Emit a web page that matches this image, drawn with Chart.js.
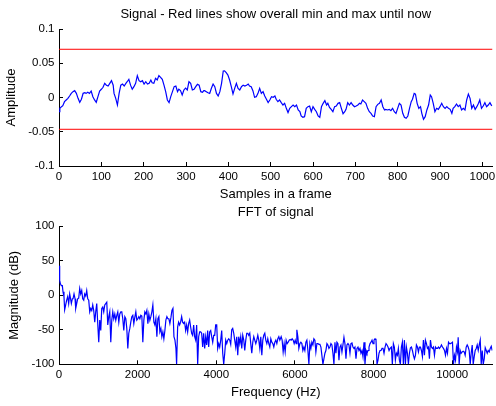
<!DOCTYPE html>
<html>
<head>
<meta charset="utf-8">
<script src="https://cdn.jsdelivr.net/npm/chart.js@4.4.1/dist/chart.umd.min.js"></script>
<style>
  html, body { margin: 0; padding: 0; background: #fff; }
  #wrap { position: relative; width: 496px; height: 406px; }
  canvas { position: absolute; left: 0; }
</style>
</head>
<body>
<div id="wrap">
  <canvas id="signal" width="496" height="203" style="top:0"></canvas>
  <canvas id="fft" width="496" height="203" style="top:203px"></canvas>
</div>
<script>
// signal frame (sample index, amplitude)
const sampleIdx = [
  0, 2, 6, 9, 13, 17, 21, 25, 29, 33, 37, 41, 45, 49, 53, 57, 61, 64, 68, 72,
  76, 80, 84, 88, 92, 96, 100, 104, 108, 112, 116, 120, 124, 128, 130, 134, 138, 142, 146, 150,
  154, 158, 161, 165, 169, 173, 177, 181, 185, 189, 193, 197, 201, 205, 209, 213, 217, 220, 224, 228,
  232, 236, 240, 244, 248, 252, 256, 260, 264, 268, 272, 276, 280, 283, 287, 291, 295, 299, 303, 307,
  311, 315, 319, 323, 327, 331, 335, 339, 342, 344, 348, 352, 356, 360, 364, 368, 372, 376, 380, 384,
  388, 391, 395, 399, 403, 407, 411, 415, 419, 423, 427, 431, 435, 439, 443, 447, 450, 454, 458, 462,
  466, 470, 474, 478, 482, 486, 490, 494, 498, 502, 506, 510, 513, 517, 521, 525, 529, 533, 537, 541,
  545, 549, 553, 557, 561, 565, 569, 572, 576, 580, 584, 588, 592, 596, 600, 604, 608, 612, 616, 620,
  624, 628, 632, 635, 639, 643, 647, 651, 655, 659, 663, 667, 671, 675, 678, 682, 686, 690, 694, 698,
  702, 706, 710, 713, 717, 721, 725, 729, 733, 737, 741, 745, 749, 753, 757, 761, 765, 769, 772, 776,
  780, 784, 788, 792, 796, 800, 804, 808, 812, 816, 820, 824, 828, 832, 835, 839, 842, 846, 850, 854,
  857, 861, 865, 869, 873, 877, 880, 884, 888, 892, 896, 900, 904, 908, 912, 916, 920, 924, 928, 931,
  935, 939, 943, 947, 951, 955, 959, 963, 967, 971, 975, 979, 983, 987, 991, 994, 998, 1002, 1006, 1010,
  1014, 1018, 1021, 1023,
];
const amplitude = [
  -0.0207, -0.0158, -0.0134, -0.0119, -0.0061, -0.0036, -0.0012, 0.0022, 0.0061, 0.0085, 0.0100, 0.0061, -0.0012, -0.0070, -0.0026, 0.0061, 0.0070, 0.0060, 0.0076, 0.0060,
  0.0095, 0.0012, -0.0036, -0.0070, 0.0012, 0.0095, 0.0120, 0.0149, 0.0207, 0.0180, 0.0168, 0.0207, 0.0246, 0.0180, 0.0060, -0.0012, -0.0110, 0.0060, 0.0180, 0.0197,
  0.0168, 0.0207, 0.0230, 0.0265, 0.0180, 0.0120, 0.0158, 0.0207, 0.0319, 0.0246, 0.0230, 0.0246, 0.0197, 0.0230, 0.0197, 0.0207, 0.0255, 0.0216, 0.0207, 0.0280,
  0.0255, 0.0319, 0.0295, 0.0265, 0.0180, 0.0085, -0.0036, -0.0075, 0.0012, 0.0085, 0.0158, 0.0168, 0.0085, 0.0120, 0.0100, 0.0036, 0.0110, 0.0138, 0.0110, 0.0230,
  0.0207, 0.0110, 0.0120, 0.0158, 0.0192, 0.0180, 0.0085, 0.0076, 0.0100, 0.0100, 0.0085, 0.0070, 0.0060, 0.0134, 0.0197, 0.0158, 0.0060, 0.0022, 0.0085, 0.0207,
  0.0387, 0.0390, 0.0362, 0.0328, 0.0255, 0.0158, 0.0051, 0.0134, 0.0207, 0.0134, 0.0110, 0.0158, 0.0180, 0.0168, 0.0180, 0.0197, 0.0168, 0.0158, 0.0100, 0.0003,
  0.0012, 0.0060, 0.0134, 0.0060, 0.0085, 0.0022, -0.0026, -0.0075, -0.0036, 0.0012, 0.0003, 0.0022, -0.0026, -0.0060, -0.0036, -0.0075, -0.0110, -0.0085, -0.0158, -0.0220,
  -0.0158, -0.0134, -0.0110, -0.0134, -0.0110, -0.0182, -0.0207, -0.0270, -0.0289, -0.0280, -0.0158, -0.0134, -0.0124, -0.0207, -0.0134, -0.0173, -0.0207, -0.0270, -0.0289, -0.0134,
  -0.0085, -0.0046, -0.0110, -0.0085, -0.0144, -0.0173, -0.0207, -0.0134, -0.0124, -0.0085, -0.0075, -0.0158, -0.0236, -0.0207, -0.0173, -0.0075, -0.0110, -0.0075, -0.0110, -0.0134,
  -0.0124, -0.0110, -0.0085, -0.0095, -0.0036, -0.0060, -0.0085, -0.0158, -0.0207, -0.0231, -0.0270, -0.0280, -0.0134, -0.0100, -0.0085, -0.0036, -0.0134, -0.0182, -0.0173, -0.0182,
  -0.0173, -0.0192, -0.0158, -0.0207, -0.0231, -0.0158, -0.0085, -0.0110, -0.0231, -0.0289, -0.0304, -0.0270, -0.0158, -0.0060, -0.0026, 0.0060, 0.0050, -0.0085, -0.0158, -0.0134,
  -0.0231, -0.0318, -0.0280, -0.0182, -0.0110, 0.0036, 0.0012, -0.0085, -0.0207, -0.0158, -0.0173, -0.0134, -0.0085, -0.0134, -0.0158, -0.0134, -0.0158, -0.0173, -0.0231, -0.0158,
  -0.0134, -0.0095, -0.0134, -0.0110, -0.0182, -0.0158, -0.0182, -0.0036, 0.0050, -0.0012, -0.0158, -0.0110, -0.0173, -0.0134, -0.0085, -0.0036, -0.0158, -0.0124, -0.0075, -0.0134,
  -0.0110, -0.0075, -0.0110, -0.0120,
];
// overall min / max so far (red lines)
const overallMax = 0.0704;
const overallMin = -0.0464;

// FFT magnitude (Hz, dB)
const freqHz = [
  0, 17, 34, 59, 85, 102, 127, 144, 170, 195, 221, 246, 272, 297, 314, 340, 357, 382, 408, 425,
  450, 476, 501, 527, 552, 578, 603, 629, 654, 680, 705, 731, 756, 782, 807, 833, 858, 883, 909, 934,
  960, 985, 1011, 1036, 1062, 1087, 1113, 1138, 1164, 1189, 1215, 1240, 1266, 1291, 1317, 1342, 1368, 1393, 1419, 1444,
  1470, 1495, 1521, 1546, 1572, 1597, 1622, 1648, 1674, 1699, 1724, 1750, 1775, 1801, 1826, 1852, 1877, 1903, 1928, 1954,
  1979, 2005, 2030, 2056, 2081, 2107, 2132, 2158, 2183, 2209, 2234, 2260, 2285, 2311, 2336, 2362, 2387, 2413, 2438, 2464,
  2489, 2515, 2540, 2565, 2591, 2616, 2642, 2667, 2693, 2718, 2744, 2769, 2795, 2820, 2847, 2872, 2898, 2923, 2949, 2974,
  2991, 3017, 3042, 3068, 3093, 3119, 3144, 3170, 3195, 3221, 3246, 3272, 3297, 3323, 3348, 3374, 3399, 3425, 3450, 3476,
  3501, 3527, 3552, 3577, 3603, 3628, 3654, 3679, 3705, 3730, 3756, 3781, 3807, 3832, 3858, 3883, 3909, 3934, 3960, 3985,
  4011, 4036, 4062, 4087, 4113, 4138, 4164, 4189, 4215, 4240, 4266, 4291, 4317, 4342, 4367, 4393, 4418, 4444, 4469, 4495,
  4520, 4546, 4571, 4597, 4622, 4648, 4673, 4699, 4724, 4750, 4775, 4801, 4826, 4852, 4877, 4903, 4928, 4954, 4979, 5005,
  5030, 5056, 5081, 5107, 5132, 5158, 5183, 5208, 5234, 5259, 5285, 5310, 5336, 5361, 5387, 5412, 5438, 5463, 5489, 5514,
  5540, 5565, 5591, 5616, 5650, 5675, 5701, 5726, 5752, 5777, 5803, 5828, 5854, 5879, 5905, 5930, 5956, 5981, 6007, 6032,
  6049, 6075, 6100, 6126, 6151, 6177, 6202, 6228, 6253, 6279, 6304, 6330, 6355, 6380, 6406, 6431, 6457, 6482, 6508, 6533,
  6559, 6584, 6610, 6635, 6661, 6686, 6712, 6737, 6763, 6788, 6814, 6839, 6865, 6890, 6916, 6941, 6967, 6992, 7018, 7043,
  7069, 7094, 7120, 7145, 7171, 7196, 7221, 7247, 7272, 7298, 7323, 7349, 7374, 7400, 7425, 7451, 7476, 7502, 7527, 7553,
  7578, 7604, 7629, 7655, 7680, 7706, 7731, 7757, 7782, 7808, 7833, 7859, 7884, 7910, 7935, 7961, 7986, 8011, 8037, 8062,
  8088, 8113, 8139, 8164, 8190, 8215, 8241, 8266, 8292, 8317, 8343, 8368, 8394, 8419, 8453, 8478, 8504, 8529, 8555, 8580,
  8606, 8631, 8657, 8682, 8708, 8733, 8759, 8784, 8810, 8835, 8861, 8886, 8912, 8937, 8963, 8988, 9014, 9039, 9065, 9090,
  9116, 9141, 9166, 9192, 9217, 9243, 9268, 9294, 9319, 9345, 9370, 9396, 9421, 9447, 9472, 9498, 9523, 9549, 9574, 9600,
  9625, 9651, 9676, 9702, 9727, 9753, 9778, 9804, 9829, 9855, 9880, 9906, 9931, 9957, 9982, 10007, 10033, 10058, 10084, 10109,
  10135, 10152, 10177, 10203, 10228, 10254, 10279, 10305, 10330, 10356, 10381, 10407, 10432, 10458, 10483, 10509, 10534, 10560, 10585, 10611,
  10636, 10662, 10687, 10713, 10738, 10764, 10789, 10815, 10840, 10866, 10891, 10916, 10942, 10967, 10993, 11018,
];
const magnitudeDb = [
  43, 22, 17, 14, 14, 5, -2, -21, -14, -7, -2, -12, 2, -6, -12, -5, -5, 2, -5, -19,
  -12, -5, -4, 10, 2, 7, -5, -7, 2, -1, 7, -5, -7, -24, -19, -22, -14, -22, -39, -24,
  -12, -41, -68, -36, -51, -19, -17, -24, -14, -12, -10, -43, -31, -24, -68, -36, -24, -34, -27, -36,
  -29, -24, -39, -27, -24, -24, -34, -51, -31, -34, -48, -77, -55, -48, -39, -31, -29, -41, -32, -24,
  -36, -34, -31, -34, -29, -30, -68, -36, -24, -27, -22, -41, -27, -36, -31, -24, -14, -39, -43, -34,
  -60, -34, -31, -53, -48, -60, -53, -63, -51, -36, -31, -34, -34, -41, -32, -22, -19, -60, -65, -77,
  -100, -46, -39, -43, -39, -31, -39, -41, -39, -51, -43, -53, -41, -36, -46, -55, -58, -43, -60, -65,
  -43, -100, -60, -53, -53, -55, -75, -55, -77, -60, -72, -51, -75, -53, -51, -60, -68, -58, -58, -43,
  -43, -77, -70, -75, -65, -51, -84, -100, -84, -65, -70, -65, -63, -65, -71, -50, -48, -55, -65, -75,
  -60, -87, -60, -70, -60, -77, -58, -65, -80, -65, -55, -55, -58, -55, -70, -84, -68, -60, -65, -70,
  -65, -58, -65, -77, -60, -87, -65, -58, -55, -65, -70, -63, -70, -75, -63, -68, -70, -75, -68, -65,
  -70, -63, -60, -65, -60, -65, -82, -70, -82, -65, -70, -68, -65, -64, -65, -63, -65, -70, -65, -70,
  -50, -60, -77, -70, -68, -70, -80, -75, -80, -68, -65, -80, -100, -70, -77, -68, -72, -63, -65, -82,
  -70, -70, -71, -71, -75, -87, -100, -92, -84, -80, -70, -72, -77, -75, -70, -72, -84, -100, -68, -84,
  -68, -70, -94, -75, -72, -82, -72, -61, -70, -92, -72, -70, -72, -84, -70, -69, -75, -77, -75, -92,
  -77, -75, -80, -77, -84, -80, -89, -68, -100, -80, -84, -80, -75, -70, -68, -65, -70, -65, -63, -65,
  -100, -94, -84, -80, -80, -77, -77, -84, -75, -70, -72, -75, -80, -77, -75, -100, -70, -75, -94, -84,
  -87, -77, -94, -100, -75, -68, -100, -65, -100, -75, -84, -100, -84, -76, -75, -80, -87, -92, -87, -72,
  -75, -82, -75, -75, -80, -89, -65, -87, -65, -70, -77, -75, -92, -65, -75, -77, -75, -87, -75, -77,
  -77, -75, -77, -75, -72, -75, -77, -80, -87, -77, -84, -68, -70, -70, -69, -68, -100, -87, -94, -75,
  -82, -61, -100, -80, -84, -82, -81, -82, -87, -75, -72, -75, -80, -100, -84, -72, -100, -89, -80, -77,
  -72, -80, -72, -65, -100, -80, -100, -92, -76, -80, -84, -80, -82, -77, -74, -80,
];

// axes ticks
const signalXTicks = [0, 100, 200, 300, 400, 500, 600, 700, 800, 900, 1000];
const signalYTicks = [-0.1, -0.05, 0, 0.05, 0.1];
const fftXTicks = [0, 2000, 4000, 6000, 8000, 10000];
const fftYTicks = [-100, -50, 0, 50, 100];

const FAMILY = "'Liberation Sans', Arial, Helvetica, sans-serif";
const TICK_FONT = { family: FAMILY, size: 11.5 };
const LABEL_FONT = { family: FAMILY, size: 13, weight: 'normal' };
const BLACK = '#000000';

function xAxis(min, max, ticks, title, height, titlePad) {
  return {
    type: 'linear',
    min,
    max,
    afterBuildTicks(scale) { scale.ticks = ticks.map((v) => ({ value: v })); },
    afterFit(scale) {
      scale.height = height;
      scale.paddingLeft = 0;
      scale.paddingRight = 0;
    },
    border: { color: BLACK, width: 1 },
    grid: { drawOnChartArea: false, drawTicks: true, tickLength: -4, color: BLACK },
    ticks: {
      padding: 7.5,
      color: BLACK,
      font: TICK_FONT,
      maxRotation: 0,
      autoSkip: false,
      callback: (v) => String(v),
    },
    title: { display: true, text: title, color: BLACK, font: LABEL_FONT, padding: { top: 0, bottom: titlePad } },
  };
}

function yAxis(min, max, ticks, title, titlePad) {
  return {
    type: 'linear',
    min,
    max,
    afterBuildTicks(scale) { scale.ticks = ticks.map((v) => ({ value: v })); },
    afterFit(scale) {
      scale.width = 59;
      scale.paddingTop = 0;
      scale.paddingBottom = 0;
    },
    border: { color: BLACK, width: 1 },
    grid: { drawOnChartArea: false, drawTicks: true, tickLength: -4, color: BLACK },
    ticks: { padding: 8.5, color: BLACK, font: TICK_FONT, callback: (v) => String(v) },
    title: { display: true, text: title, color: BLACK, font: LABEL_FONT, padding: { top: titlePad, bottom: 0 } },
  };
}

function titleBlock(text, padTop, padBottom) {
  return {
    display: true,
    text,
    color: BLACK,
    fullSize: false,
    font: LABEL_FONT,
    padding: { top: padTop, bottom: padBottom },
  };
}

const baseOptions = {
  responsive: false,
  animation: false,
  events: [],
  elements: { point: { radius: 0 }, line: { tension: 0 } },
};

// eslint-disable-next-line no-new
new Chart(document.getElementById('signal'), {
  type: 'line',
  data: {
    datasets: [
      {
        data: sampleIdx.map((s, i) => ({ x: s, y: amplitude[i] })),
        borderColor: '#0000ff',
        borderWidth: 1.2,
      },
      {
        data: [{ x: 0, y: overallMax }, { x: 1024, y: overallMax }],
        borderColor: '#ff0000',
        borderWidth: 1,
      },
      {
        data: [{ x: 0, y: overallMin }, { x: 1024, y: overallMin }],
        borderColor: '#ff0000',
        borderWidth: 1,
      },
    ],
  },
  options: {
    ...baseOptions,
    layout: { padding: { left: 0, right: 3.5, top: 0, bottom: 0 } },
    plugins: {
      legend: { display: false },
      tooltip: { enabled: false },
      title: titleBlock('Signal - Red lines show overall min and max until now', 6.2, 7.2),
    },
    scales: {
      x: xAxis(0, 1024, signalXTicks, 'Samples in a frame', 37, 0.9),
      y: yAxis(-0.1, 0.1, signalYTicks, 'Amplitude', 3.2),
    },
  },
});

// eslint-disable-next-line no-new
new Chart(document.getElementById('fft'), {
  type: 'line',
  data: {
    datasets: [{
      data: freqHz.map((f, i) => ({ x: f, y: magnitudeDb[i] })),
      borderColor: '#0000ff',
      borderWidth: 1.2,
    }],
  },
  options: {
    ...baseOptions,
    layout: { padding: { left: 0, right: 3.5, top: 0, bottom: 0 } },
    plugins: {
      legend: { display: false },
      tooltip: { enabled: false },
      title: titleBlock('FFT of signal', 1.5, 6.2),
    },
    scales: {
      x: xAxis(0, 11025, fftXTicks, 'Frequency (Hz)', 41.7, 5.5),
      y: yAxis(-100, 100, fftYTicks, 'Magnitude (dB)', 6.7),
    },
  },
});
</script>
</body>
</html>
